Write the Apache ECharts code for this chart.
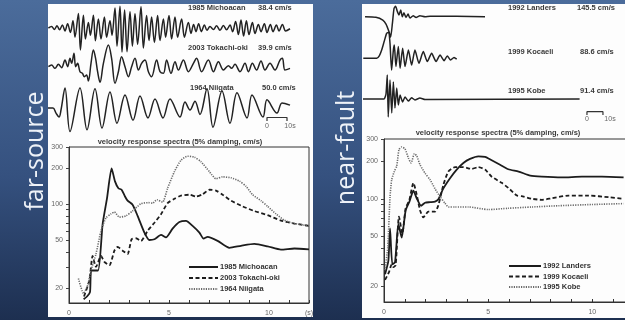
<!DOCTYPE html>
<html><head><meta charset="utf-8">
<script src="https://cdn.jsdelivr.net/npm/echarts@6/dist/echarts.min.js"></script>
<style>html,body{margin:0;padding:0;background:#2c4570}#c{width:625px;height:320px}</style>
</head><body><div id="c"></div>
<script>
// ---------- response spectra (period s, velocity cm/s) ----------
const michT = [0.73,0.9,1.05,1.12,1.45,1.68,1.9,2.13,2.3,2.47,2.63,2.8,2.93,3.18,3.43,3.77,4.02,4.27,4.6,4.85,5.18,5.52,5.85,6.18,6.52,6.73,6.93,7.43,8.02,8.6,9.27,9.93,10.6,11.27,12];
const michV = [16.1,17,18.5,28,28,68,112,199,155,136,132,116,107,99,80,58,50.3,51,55.4,52.8,62.5,71,72.6,66,58,51.7,53.4,49.5,43.3,45,46.6,44.5,41.8,42.7,42];
const tokaT = [0.75,1.02,1.18,1.35,1.6,1.77,2.02,2.27,2.43,2.68,2.93,3.13,3.35,3.6,3.93,4.27,4.6,4.93,5.27,5.6,6.02,6.35,6.68,7.02,7.35,7.68,8.1,8.68,9.27,9.93,10.6,11.27,12];
const tokaV = [17,23.2,37,30,37,33,31,41,44,41,38.5,51,52,49.5,60,70,82.5,102,111,118,120,116,121,132,130,120,107,96,87.6,81,73,69,66];
const niigT = [0.47,0.73,0.93,1.1,1.35,1.6,1.85,2.1,2.27,2.52,2.85,3.18,3.6,3.97,4.18,4.4,4.68,4.93,5.27,5.6,5.93,6.27,6.6,7.02,7.35,7.68,8.1,8.52,8.85,9.18,9.6,9.93,10.35,10.77,11.27,12];
const niigV = [24,18,21,28,38.5,60,77,83,86,78,80,88,101,103,102,109,104,136,187,233,251,247,226,187,163,169,166,156,141,120,107,96,83,73.5,69,66];
const landT = [0.05,0.21,0.29,0.4,0.53,0.69,0.85,1.04,1.22,1.41,1.57,1.78,1.97,2.21,2.45,2.61,2.85,3.17,3.49,3.81,4.13,4.53,4.85,5.17,5.57,5.97,6.46,7.02,7.58,8.54,9.5,10.46,11.5];
const landV = [25,32,58,30,31.2,63,49,81,95,116,101,88,93,94,95,99,121,146,171,193,208,218,216,203,187,172,165,153,150,148,150,150,148];
const kocaT = [0.05,0.24,0.37,0.45,0.56,0.72,0.88,1.04,1.22,1.41,1.57,1.73,1.89,2.13,2.45,2.61,2.85,3.09,3.41,3.81,4.21,4.53,4.85,5.17,5.65,5.97,6.38,6.6,7.1,7.58,8.06,8.86,9.82,10.78,11.5];
const kocaV = [22.5,26,30,28.5,29.5,72,53,84,98,134,108,81,71,79,79,89,129,165,179,179,173,179,171,150,134,122,106,105,100,98,101,106,106,103,100];
const kobeT = [0.05,0.18,0.29,0.37,0.5,0.61,0.72,0.85,1.01,1.17,1.3,1.46,1.57,1.73,1.97,2.21,2.45,2.69,2.93,3.09,3.41,4.05,5.01,5.97,7.1,8.38,9.98,11.5];
const kobeV = [27,41,104,142,166,182,247,259,250,212,193,229,220,187,160,142,120,104,92,86,86,86,82,84,86,88,90,91.5];

// ---------- velocity time histories (time s, velocity cm/s) ----------
const m1T = [0.2,1.8,3.2,4.5,5.8,7.2,8.5,9.8,11.2,12.5,13.5,15.2,16.2,17.7,18.7,20.2,21.2,22.7,23.7,25.2,26.5,28.2,29.3,31,32,33.5,34.5,36,37,38.3,39.5,41,42.2,43.5,44.8,46.5,47.7,49.3,50.5,51.8,53.2,54.8,56,57.7,58.8,60.5,61.8,63.5,64.8,66.8,68.2,70.2,71.5,72.8,74,75.3,76.7,78.2,79.5,81,82.7,84.3,86,87.7,89.3,91,92.3,93.8,95.2,96.5,97.8,99.2,100.5,102.2,103.5,105.2,106.5,108.2,109.5,111.2,112.5,114.2,115.5,117.2,118.8,121];
const m1V = [0,2.3,-2.3,3.5,-2.9,4.7,-4.7,7,-7,11.7,-14.6,23.3,-35,20.4,-17.5,8.8,-11.7,20.4,-20.4,14.6,-17.5,17.5,-14.6,11.7,-11.7,32,-29,35,-38.4,29,-38,26,-29,23,-26,34,-32,20,-20,17.5,-23,20,-20,14.6,-14.6,20,-17.5,17.5,-14.6,14.6,-14.6,8.8,-8.8,5.8,-5.8,7,-5.8,4.7,-3.5,2.3,-2.3,3.5,-3.5,4,-2.9,4.7,-5.8,10.5,-10.5,12.8,-12.8,11.7,-10.5,8.8,-8.8,5.8,-5.8,7,-7,5.8,-5.8,4.7,-4.7,5.8,-4.7,-1.2];
const m2T = [0.2,1.8,3.5,5.2,6.8,8.5,9.8,11,11.8,13,13.8,14.8,16,17.2,18.2,19.3,20.2,21.5,22.7,23.8,24.8,26,27.7,30.2,31.8,33.5,35.2,36.8,38.5,40.2,41.8,43.5,45.2,46.8,48.5,50.2,51.8,54.3,56,57.7,59.3,61.5,63.5,65.2,67.7,70.2,72.7,74.3,76.8,80.2,82.7,85.2,87.7,90.2,91.8,93.5,96,98.5,100.2,102.2,104.3,106.5,108.5,111,113.5,116,117.2,118.5,121];
const m2V = [0,3,-3,4.2,-1.8,12,0,15,6,24,0,6,-9,-12,-18,-15,-25.8,6,30,15,-9,-28.2,6,39,15,-30,-9,18,0,-18,0,15,-6,6,12,-9,-18,12,-9,-12,12,-12,9,-6,12,-9,6,15,-9,12,-9,9,-6,1.8,-3,4.2,-9,6,-9,6,-6,10.2,-6,6,-6,12,15,-6,-3];
const m3T = [0,2.5,4,5.5,6.5,8.5,11,16,19.5,23.5,27,31,34.5,38.5,42.5,46,50,53.5,57.5,61,66,68.5,71,73.5,76,79.5,82.5,87,91,94.5,99.5,102,107.5,109.5,114.5,117,121];
const m3V = [4.5,4.5,-7,-16,0,50,-49,50,-45,48,-41,41,-30,34,-23,32,-18,25,-18,25,-16,18,0,20,-10,48,-39,43,-30,39,-18,34,-16,23,-7,16,11];
const n1T = [1.9,8.7,13,15,16.9,17.9,19,20,21,22,23.1,24.2,25.2,26.2,27.5,28.8,30,32,33.8,36.2,39.4,42.5,76.9];
const n1V = [0,-4,-24,-52,-107,-145.5,-48,58,75,40,12,47,0,28,-5,19,-10,7,-5,7,0,4,0];
const n2T = [0.8,9.2,10.8,12.3,13.8,15.4,16.7,17.5,18.5,19.6,20.2,21.2,22.7,23.8,25.4,26.9,29,31,33.1,35.6,38.3,40.8,43.5,46.3,48.8,51.3,53.3,55.4,57.5,59.2];
const n2V = [0,0,8,28,56,85,88.6,51,-40,28,45,-28,40,-34,34,-28,28,-23,28,-17,23,-11,17,-11,11,-8,8,-6,3,-3];
const n3T = [0.6,13.8,15,15.8,16.4,17.5,18.6,19.6,20.6,21.7,22.7,23.8,25.4,26.9,29,31,33.1,36.2,39.4,136];
const n3V = [0,0,19,91.4,-68,72,-53,65,-34,42,-23,15,-11,8,-8,5,-4,4,-2,0];

// ---------- names, labels and ticks ----------
const farNames = ['1985 Michoacan','2003 Tokachi-oki','1964 Niigata'];
const farPeaks = ['38.4 cm/s','39.9 cm/s','50.0 cm/s'];
const nearNames = ['1992 Landers','1999 Kocaeli','1995 Kobe'];
const nearPeaks = ['145.5 cm/s','88.6 cm/s','91.4 cm/s'];
const specTitle = 'velocity response spectra (5% damping, cm/s)';
const yTickVals = [20,50,100,200,300];
const yMinorVals = [20,30,40,50,60,70,80,90,100,200,300];
const xTickValsL = [0,5,10,12];
const xTickLabsL = ['0','5','10','(s)'];
const xTickValsR = [0,5,10];
const xTickLabsR = ['0','5','10'];
const scaleLen = 10; // seconds
const scaleLabels = ['0','10s'];

const L10 = Math.log10;
const specData = (T, V) => T.map((t, i) => [t, L10(V[i])]);
const linData = (T, V) => T.map((t, i) => [t, V[i]]);
const FONT = '"Liberation Sans", Arial, sans-serif';

const chart = echarts.init(document.getElementById('c'), null, {renderer: 'canvas', width: 625, height: 320});

function specX(idx, vals, labs, max) {
  return {
    type: 'value', gridIndex: idx, min: 0, max: max, interval: 1,
    axisLine: {show: true, lineStyle: {color: '#333', width: 1}},
    axisTick: {show: true, inside: true, length: 3, lineStyle: {color: '#333'}},
    axisLabel: {customValues: vals, formatter: v => { const k = vals.indexOf(v); return k < 0 ? '' : labs[k]; },
      fontSize: 7, color: '#666', margin: 7, fontFamily: FONT, showMaxLabel: true},
    splitLine: {show: false}
  };
}
function specY(idx) {
  return {
    type: 'value', gridIndex: idx, min: L10(15), max: L10(300),
    axisLine: {show: true, lineStyle: {color: '#333', width: 1}},
    axisTick: {show: true, inside: false, length: 3, customValues: yMinorVals.map(L10), lineStyle: {color: '#444'}},
    axisLabel: {customValues: yTickVals.map(L10), formatter: v => String(Math.round(Math.pow(10, v))),
      fontSize: 7, color: '#666', margin: 6, fontFamily: FONT},
    splitLine: {show: false}
  };
}
function hidX(idx, max) { return {type: 'value', gridIndex: idx, min: 0, max: max, show: false}; }
function hidY(idx, a) { return {type: 'value', gridIndex: idx, min: -a, max: a, show: false}; }

const solid = {color: '#1c1c1c', width: 1.8, type: 'solid'};
const dashed = {color: '#1c1c1c', width: 1.8, type: [4, 2.5]};
const dotted = {color: '#6a6a6a', width: 1.6, type: [1.2, 1.2]};
function spec(name, idx, data, ls) {
  return {type: 'line', name: name, xAxisIndex: idx, yAxisIndex: idx, data: data, symbol: 'none',
    smooth: 0.2, lineStyle: ls, itemStyle: {color: ls.color}, z: 3};
}
function trace(idx, data, extra) {
  return Object.assign({type: 'line', xAxisIndex: idx, yAxisIndex: idx, data: data, symbol: 'none',
    smooth: 0.35, clip: false, lineStyle: {color: '#222', width: 1.5}, z: 3}, extra || {});
}
function bar(idx, t0, v0, v1) {
  return {type: 'line', xAxisIndex: idx, yAxisIndex: idx, symbol: 'none', clip: false,
    data: [[t0, v1], [t0, v0], [t0 + scaleLen, v0], [t0 + scaleLen, v1]],
    lineStyle: {color: '#333', width: 1.2}, z: 3};
}
function txt(text, x, y, o) {
  o = o || {};
  return {type: 'text', x: x, y: y, z: 10, rotation: o.rot || 0,
    style: {text: text, fill: o.fill || '#3a3a3a', font: o.font || ('bold 7.5px ' + FONT),
      textAlign: o.align || 'left', align: o.align || 'left', textVerticalAlign: 'middle', verticalAlign: 'middle'}};
}

const gridBase = {show: false, containLabel: false, outerBoundsMode: 'none'};
const legendBase = {orient: 'vertical', padding: 0, selectedMode: false,
  itemStyle: {opacity: 0, borderWidth: 0}, textStyle: {fontSize: 7.5, fontWeight: 'bold', color: '#333', fontFamily: FONT, padding: [0, 0, 0, -3]}};
const option = {
  animation: false,
  textStyle: {fontFamily: FONT},
  graphic: {elements: [
    {type: 'rect', z: -100, shape: {x: 0, y: 0, width: 625, height: 320},
      style: {fill: new echarts.graphic.LinearGradient(0, 0, 0, 1, [{offset: 0, color: '#4b6c9b'}, {offset: 0.55, color: '#35517f'}, {offset: 1, color: '#1d2f50'}])}},
    {type: 'rect', z: -90, shape: {x: 48, y: 4, width: 265, height: 313}, style: {fill: '#fdfdfd'}},
    {type: 'rect', z: -90, shape: {x: 362, y: 4, width: 263, height: 314}, style: {fill: '#fdfdfd'}},
    txt('far-source', 36, 151, {rot: Math.PI / 2, align: 'center', fill: '#eef2f8', font: '25px "Open Sans", sans-serif'}),
    txt('near-fault', 347, 148, {rot: Math.PI / 2, align: 'center', fill: '#eef2f8', font: '25px "Open Sans", sans-serif'}),
    txt(farNames[0], 188, 8), txt(farPeaks[0], 258, 8),
    txt(farNames[1], 188, 48), txt(farPeaks[1], 258, 48),
    txt(farNames[2], 190, 88), txt(farPeaks[2], 262, 88),
    txt(scaleLabels[0], 267, 126, {align: 'center', font: '7px ' + FONT, fill: '#666'}),
    txt(scaleLabels[1], 290, 126, {align: 'center', font: '7px ' + FONT, fill: '#666'}),
    txt(specTitle, 180, 142, {align: 'center'}),
    txt(nearNames[0], 508, 8), txt(nearPeaks[0], 577, 8),
    txt(nearNames[1], 508, 52), txt(nearPeaks[1], 580, 52),
    txt(nearNames[2], 508, 91), txt(nearPeaks[2], 580, 91),
    txt(scaleLabels[0], 587, 119, {align: 'center', font: '7px ' + FONT, fill: '#666'}),
    txt(scaleLabels[1], 610, 119, {align: 'center', font: '7px ' + FONT, fill: '#666'}),
    txt(specTitle, 498, 133, {align: 'center'})
  ]},
  grid: [
    Object.assign({}, gridBase, {left: 69, top: 147, width: 240, height: 156, show: true, borderColor: '#333', borderWidth: 1, backgroundColor: 'transparent'}),
    Object.assign({}, gridBase, {left: 384, top: 139, width: 250, height: 163, show: true, borderColor: '#333', borderWidth: 1, backgroundColor: 'transparent'}),
    Object.assign({}, gridBase, {left: 48, top: 18, width: 242, height: 20}),
    Object.assign({}, gridBase, {left: 48, top: 56.7, width: 242, height: 20}),
    Object.assign({}, gridBase, {left: 48, top: 100, width: 242, height: 20}),
    Object.assign({}, gridBase, {left: 362, top: 6.7, width: 243.2, height: 20}),
    Object.assign({}, gridBase, {left: 362, top: 48.3, width: 243.2, height: 20}),
    Object.assign({}, gridBase, {left: 362, top: 89, width: 243.2, height: 20})
  ],
  xAxis: [specX(0, xTickValsL, xTickLabsL, 12), specX(1, xTickValsR, xTickLabsR, 12),
    hidX(2, 121), hidX(3, 121), hidX(4, 121), hidX(5, 152), hidX(6, 152), hidX(7, 152)],
  yAxis: [specY(0), specY(1), hidY(2, 16), hidY(3, 18), hidY(4, 22.7), hidY(5, 71), hidY(6, 34), hidY(7, 38)],
  legend: [
    Object.assign({}, legendBase, {data: farNames, left: 188, top: 263, itemWidth: 29, itemHeight: 8, itemGap: 3}),
    Object.assign({}, legendBase, {data: nearNames, left: 508, top: 262, itemWidth: 32, itemHeight: 8, itemGap: 2.5})
  ],
  series: [
    spec(farNames[0], 0, specData(michT, michV), solid),
    spec(farNames[1], 0, specData(tokaT, tokaV), dashed),
    spec(farNames[2], 0, specData(niigT, niigV), dotted),
    spec(nearNames[0], 1, specData(landT, landV), solid),
    spec(nearNames[1], 1, specData(kocaT, kocaV), dashed),
    spec(nearNames[2], 1, specData(kobeT, kobeV), dotted),
    trace(2, linData(m1T, m1V)),
    trace(3, linData(m2T, m2V)),
    trace(4, linData(m3T, m3V)),
    trace(5, linData(n1T, n1V), {smooth: 0.2}),
    trace(6, linData(n2T, n2V), {smooth: 0.2}),
    trace(7, linData(n3T, n3V), {smooth: 0.15}),
    bar(4, 109.5, -17, -25),
    bar(7, 140.6, -48, -61)
  ]
};
chart.setOption(option);
</script></body></html>
